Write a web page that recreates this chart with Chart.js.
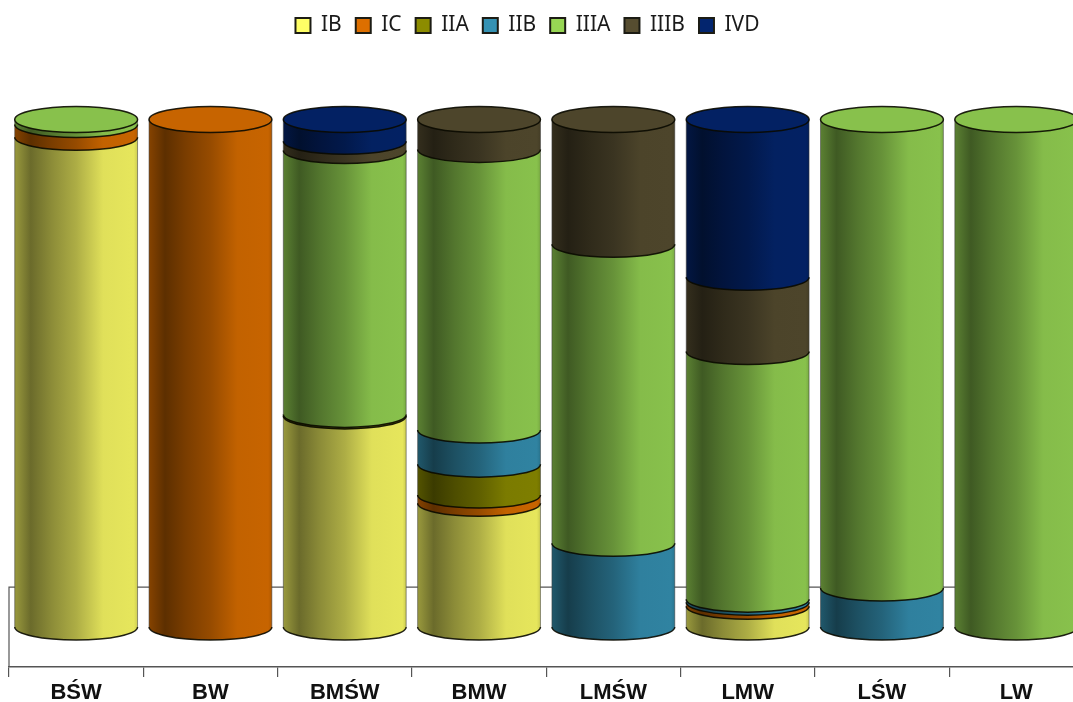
<!DOCTYPE html>
<html>
<head>
<meta charset="utf-8">
<style>html,body{margin:0;padding:0;background:#fff;overflow:hidden;width:1073px;height:702px}canvas{display:block}</style>
<script src="https://cdn.jsdelivr.net/npm/chart.js@4"></script>
</head>
<body>
<canvas id="c" width="1084" height="702"></canvas>
<script>
const categories = ['BŚW','BW','BMŚW','BMW','LMŚW','LMW','LŚW','LW'];
const seriesNames = ['IB','IC','IIA','IIB','IIIA','IIIB','IVD'];
const seriesColors = ['#FFFF66','#DD6F00','#8C8C00','#3592B3','#97D654','#564D30','#03256E'];
const IB   = [96.5, 0, 41.6, 24.4, 0, 4.1, 0, 0];
const IC   = [2.5, 100, 0, 1.6, 0, 0.8, 0, 0];
const IIA  = [0, 0, 0.3, 6.1, 0, 0, 0, 0];
const IIB  = [0, 0, 0, 6.7, 16.5, 0.6, 7.7, 0];
const IIIA = [1, 0, 52, 55.3, 58.9, 48.8, 92.3, 100];
const IIIB = [0, 0, 1.8, 5.9, 24.6, 14.6, 0, 0];
const IVD  = [0, 0, 4.3, 0, 0, 31.1, 0, 0];
const seriesValues = [IB, IC, IIA, IIB, IIIA, IIIB, IVD];
const floorValue = 7.87;
const ellipseRy = 13;

function shade(hex, k){
  const n = parseInt(hex.slice(1),16);
  const f = v => Math.min(255, Math.round(v*k));
  return `rgb(${f(n>>16&255)},${f(n>>8&255)},${f(n&255)})`;
}
const stops = [[0,.6],[.03,.56],[.13,.42],[.3,.55],[.5,.68],[.72,.88],[.97,.9],[1,.8]];

const cylinderPlugin = {
  id:'cylinder',
  afterLayout(chart){
    chart.legend.left = 0; chart.legend.right = 1055; chart.legend.top = 1;
  },
  beforeDatasetsDraw(chart){
    const {ctx, scales:{y}, chartArea} = chart;
    const fy = y.getPixelForValue(floorValue);
    ctx.save();
    ctx.strokeStyle = '#555'; ctx.lineWidth = 1.2;
    ctx.beginPath();
    ctx.moveTo(chartArea.left, chartArea.bottom);
    ctx.lineTo(chartArea.left, fy);
    ctx.lineTo(chartArea.right, fy);
    ctx.stroke();
    categories.forEach((_, i) => {
      let top = null;
      chart.data.datasets.forEach((ds, d) => {
        const el = chart.getDatasetMeta(d).data[i];
        if (!ds.data[i]) return;
        const hw = el.width/2, l = el.x-hw, r = el.x+hw;
        const g = ctx.createLinearGradient(l,0,r,0);
        stops.forEach(s => g.addColorStop(s[0], shade(ds.backgroundColor, s[1])));
        ctx.fillStyle = g;
        ctx.beginPath();
        ctx.moveTo(l, el.y);
        ctx.lineTo(l, el.base);
        ctx.ellipse(el.x, el.base, hw, ellipseRy, 0, Math.PI, 0, true);
        ctx.lineTo(r, el.y);
        ctx.closePath();
        ctx.fill();
        ctx.strokeStyle = 'rgba(60,60,60,.55)'; ctx.lineWidth = 1;
        ctx.beginPath(); ctx.moveTo(l, el.y); ctx.lineTo(l, el.base); ctx.moveTo(r, el.y); ctx.lineTo(r, el.base); ctx.stroke();
        ctx.strokeStyle = 'rgba(10,10,0,.9)'; ctx.lineWidth = 1.5;
        ctx.beginPath(); ctx.ellipse(el.x, el.base, hw, ellipseRy, 0, Math.PI, 0, true); ctx.stroke();
        top = {el, color: ds.backgroundColor, hw};
      });
      if (top) {
        ctx.fillStyle = shade(top.color, .9);
        ctx.strokeStyle = 'rgba(10,10,0,.9)'; ctx.lineWidth = 1.5;
        ctx.beginPath(); ctx.ellipse(top.el.x, top.el.y, top.hw, ellipseRy, 0, 0, Math.PI*2); ctx.fill(); ctx.stroke();
      }
    });
    ctx.restore();
  },
  beforeDatasetDraw(){ return false; }
};

new Chart(document.getElementById('c'), {
  type:'bar',
  data:{
    labels:categories,
    datasets:seriesNames.map((n,i)=>({label:n,data:seriesValues[i],backgroundColor:seriesColors[i],borderColor:'#1c1c14',borderWidth:2}))
  },
  options:{
    responsive:false, animation:false,
    categoryPercentage:.9145, barPercentage:1,
    layout:{padding:{left:9,right:.6,top:74.5,bottom:0}},
    plugins:{
      tooltip:{enabled:false},
      legend:{position:'top',labels:{boxWidth:15,boxHeight:15,padding:14,color:'#1a1a1a',font:{family:'"Noto Sans"',size:21}}}
    },
    scales:{
      x:{stacked:true,
        afterFit(s){s.height=35;},
        grid:{drawOnChartArea:false,drawTicks:true,tickLength:10,color:'#555',lineWidth:1.2},
        border:{color:'#555',width:1.5},
        ticks:{color:'#111',padding:3,maxRotation:0,autoSkip:false,font:{family:'"Liberation Sans"',size:22,weight:'bold'}}},
      y:{stacked:true,display:false,min:-floorValue,max:100}
    }
  },
  plugins:[cylinderPlugin]
});
</script>
</body>
</html>
